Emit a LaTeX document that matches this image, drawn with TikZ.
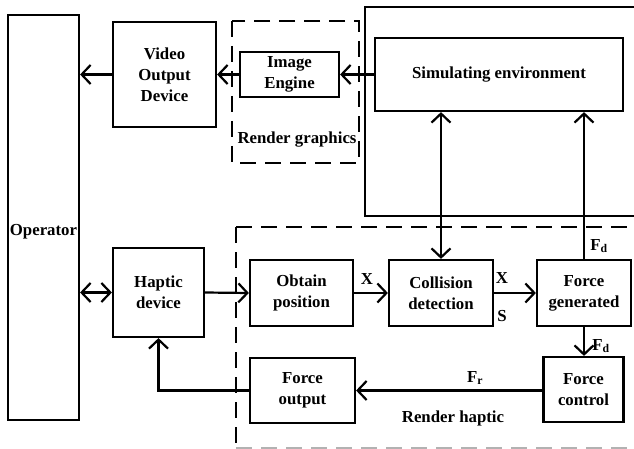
\documentclass[tikz,border=0pt]{standalone}
\usepackage{fontspec}
\setmainfont{Liberation Serif}
\usetikzlibrary{arrows.meta}

\begin{document}
\begin{tikzpicture}[x=1pt, y=-1pt,
	blk/.style = {draw, line width=2.2pt, align=center, inner sep=0pt, font=\fontsize{16.8}{21}\selectfont\bfseries},
	txt/.style = {inner sep=0pt, font=\fontsize{16.8}{21}\selectfont\bfseries},
	dsh/.style = {line width=2.2pt, dash pattern=on 16pt off 9pt},
	arr/.style = {line width=2.2pt, -{Straight Barb[length=9pt,width=19pt,line width=2.2pt]}},
	darr/.style = {line width=2.2pt, {Straight Barb[length=9pt,width=19pt,line width=2.2pt]}-{Straight Barb[length=9pt,width=19pt,line width=2.2pt]}}]
	
	\useasboundingbox (0,0) rectangle (634,449);
	\clip (0,0) rectangle (634,449);
	
	% left side
	\node[blk, minimum width=71, minimum height=405] (op) at (43.5, 217.5) {};
	\node[txt] (oplab) at (43.5, 232) {Operator};
	
	\node[blk, minimum width=103, minimum height=105] (vid) at (164.5, 74.5) {Video\\Output\\Device};
	\node[blk, minimum width=91, minimum height=89] (hap) at (158.5, 292.5) {Haptic\\device};
	
	% render graphics
	\draw[dsh] (232, 21) rectangle (359, 163);
	\node[txt] (rg) at (297, 140) {Render graphics};
	\node[blk, minimum width=99, minimum height=45] (img) at (289.5, 74.5) {Image\\Engine};
	
	% simulation
	\draw[line width=2.2pt] (365, 7) rectangle (660, 216);
	\node[blk, minimum width=248, minimum height=73] (sim) at (499, 74.5) {Simulating environment};
	
	% render haptic
	\draw[dsh] (236, 227) -- (660, 227);
	\draw[dsh] (236, 227) -- (236, 449);
	\draw[dsh, gray!60, line width=1.5pt] (236, 448) -- (660, 448);
	\node[txt] (rh) at (453, 418) {Render haptic};
	
	\node[blk, minimum width=103, minimum height=66] (obt) at (301.5, 293) {Obtain\\position};
	\node[blk, minimum width=104, minimum height=66] (col) at (441, 293) {Collision\\detection};
	\node[blk, minimum width=94, minimum height=66] (fgen) at (584, 293) {Force\\generated};
	\node[blk, minimum width=80, minimum height=65] (fctl) at (583.5, 389.5) {Force\\control};
	\node[blk, minimum width=105, minimum height=65] (fout) at (302.5, 390.5) {Force\\output};
	
	\node[txt] (x1) at (367, 279) {X};
	\node[txt] (x2) at (502, 278) {X};
	\node[txt] (s) at (502, 316) {S};
	\node[txt] (fd1) at (599, 246) {F\textsubscript{d}};
	\node[txt] (fd2) at (601, 346) {F\textsubscript{d}};
	\node[txt] (fr) at (475, 378) {F\textsubscript{r}};
	
	% connectors
	\draw[arr] (vid.west) -- (vid.west -| op.east);
	\draw[arr] (img.west) -- (vid.east);
	\draw[arr] (sim.west) -- (img.east);
	\draw[darr] (hap.west) -- (hap.west -| op.east);
	\draw[arr] (hap.east) -- (obt.west);
	\draw[arr] (obt.east) -- (col.west);
	\draw[arr] (col.east) -- (fgen.west);
	\draw[darr] (sim.south -| col.north) -- (col.north);
	\draw[arr] (fgen.north) -- (fgen.north |- sim.south);
	\draw[arr] (fgen.south) -- (fgen.south |- fctl.north);
	\draw[arr] (fctl.west |- fout.east) -- (fout.east);
	\draw[arr] (fout.west) -| (hap.south);
	
\end{tikzpicture}
\end{document}
